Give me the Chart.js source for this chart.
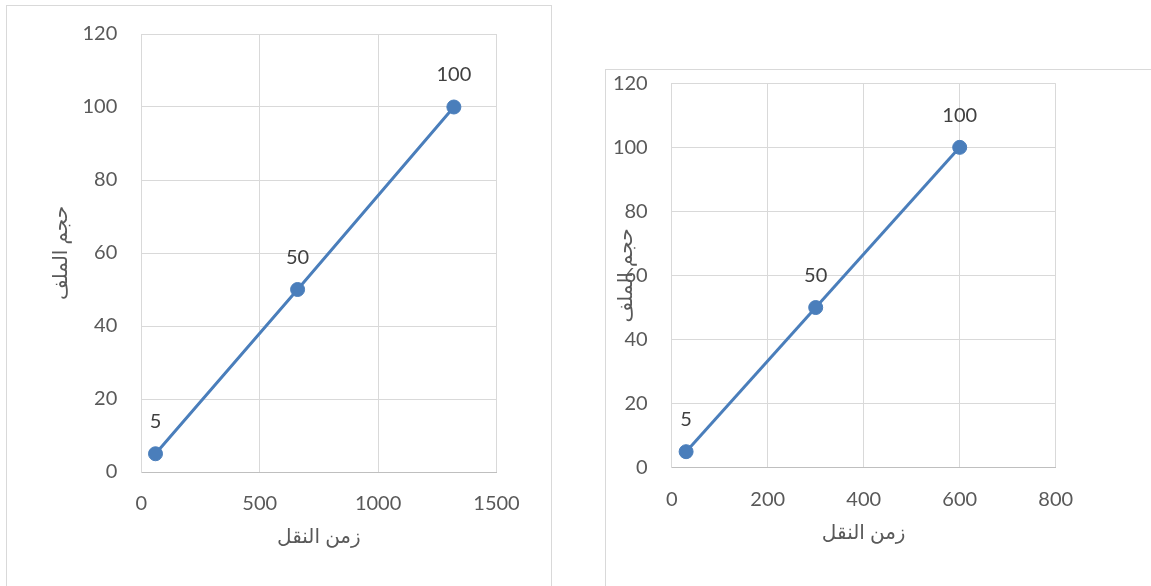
<!DOCTYPE html>
<html>
<head>
<meta charset="utf-8">
<script src="https://cdn.jsdelivr.net/npm/chart.js@4/dist/chart.umd.min.js"></script>
<style>
    body { margin: 0; background: #fff; width: 1151px; height: 586px; overflow: hidden; position: relative; }
    .frame { position: absolute; border: 1px solid #d9d9d9; }
    #frameA { left: 6px; top: 5px; width: 544px; height: 600px; }
    #frameB { left: 605px; top: 69px; width: 600px; height: 600px; }
    canvas { position: absolute; }
    #chartA { left: 0; top: 0; }
    #chartB { left: 600px; top: 60px; }
</style>
</head>
<body>
<div class="frame" id="frameA"></div>
<div class="frame" id="frameB"></div>
<canvas id="chartA" width="560" height="586"></canvas>
<canvas id="chartB" width="551" height="526"></canvas>

<script>
// Data
const fileSizes = [5, 50, 100];          // حجم الملف
const transferTimesA = [60, 660, 1320];  // زمن النقل (left chart)
const transferTimesB = [30, 300, 600];   // زمن النقل (right chart)

// Axis ranges / tick steps
const yMax = 120, yStep = 20;
const xMaxA = 1500, xStepA = 500;
const xMaxB = 800, xStepB = 200;

const xTitle = 'زمن النقل';
const yTitle = 'حجم الملف';

const FONT = "Lato, 'DejaVu Sans', sans-serif";
const BLUE = '#4a7ebb';

// Draws the value above each point (no datalabels plugin available offline)
const pointLabels = {
    id: 'pointLabels',
    afterDatasetsDraw(chart) {
        const ctx = chart.ctx;
        const meta = chart.getDatasetMeta(0);
        ctx.save();
        ctx.font = '20px ' + FONT;
        ctx.fillStyle = '#404040';
        ctx.textAlign = 'center';
        ctx.textBaseline = 'middle';
        meta.data.forEach((pt, i) => {
            ctx.fillText(String(fileSizes[i]), pt.x, pt.y - 32);
        });
        ctx.restore();
    }
};

function makeChart(id, times, xMax, xStep, box) {
    const ctx = document.getElementById(id).getContext('2d');
    return new Chart(ctx, {
        type: 'scatter',
        data: {
            datasets: [{
                data: times.map((t, i) => ({ x: t, y: fileSizes[i] })),
                showLine: true,
                borderColor: BLUE,
                backgroundColor: BLUE,
                borderWidth: 3,
                pointRadius: 7,
                pointBorderWidth: 1,
                pointBorderColor: BLUE,
                pointBackgroundColor: BLUE
            }]
        },
        options: {
            responsive: false,
            animation: false,
            devicePixelRatio: 1,
            layout: { padding: { top: box.top, right: box.right, left: 0, bottom: 0 } },
            plugins: {
                legend: { display: false },
                tooltip: { enabled: false }
            },
            scales: {
                x: {
                    type: 'linear',
                    min: 0,
                    max: xMax,
                    afterFit: s => {
                        s.height = box.xHeight;
                        s.paddingLeft = 0;
                        s.paddingRight = 0;
                    },
                    grid: { color: '#d9d9d9', lineWidth: 1, drawTicks: false },
                    border: { color: '#bfbfbf', width: 1 },
                    ticks: {
                        stepSize: xStep,
                        padding: 20,
                        color: '#595959',
                        font: { family: FONT, size: 20 },
                        maxRotation: 0,
                        callback: v => String(v)
                    },
                    title: {
                        display: true,
                        text: xTitle,
                        color: '#595959',
                        font: { family: FONT, size: 20 },
                        padding: { top: 0, bottom: box.xTitlePad }
                    }
                },
                y: {
                    type: 'linear',
                    min: 0,
                    max: yMax,
                    afterFit: s => {
                        s.width = box.yWidth;
                        s.paddingTop = 0;
                        s.paddingBottom = 0;
                    },
                    grid: { color: '#d9d9d9', lineWidth: 1, drawTicks: false },
                    border: { color: '#d9d9d9', width: 1 },
                    ticks: {
                        stepSize: yStep,
                        padding: 24,
                        color: '#595959',
                        font: { family: FONT, size: 20 },
                        callback: v => String(v)
                    },
                    title: {
                        display: true,
                        text: yTitle,
                        color: '#595959',
                        font: { family: FONT, size: 20 },
                        padding: { top: box.yTitlePad, bottom: 0 }
                    }
                }
            }
        },
        plugins: [pointLabels]
    });
}

makeChart('chartA', transferTimesA, xMaxA, xStepA,
    { top: 34, right: 63.5, yWidth: 141.3, xHeight: 114, xTitlePad: 37, yTitlePad: 49 });
makeChart('chartB', transferTimesB, xMaxB, xStepB,
    { top: 23.3, right: 95.3, yWidth: 71.7, xHeight: 118.3, xTitlePad: 41, yTitlePad: 14 });
</script>
</body>
</html>
